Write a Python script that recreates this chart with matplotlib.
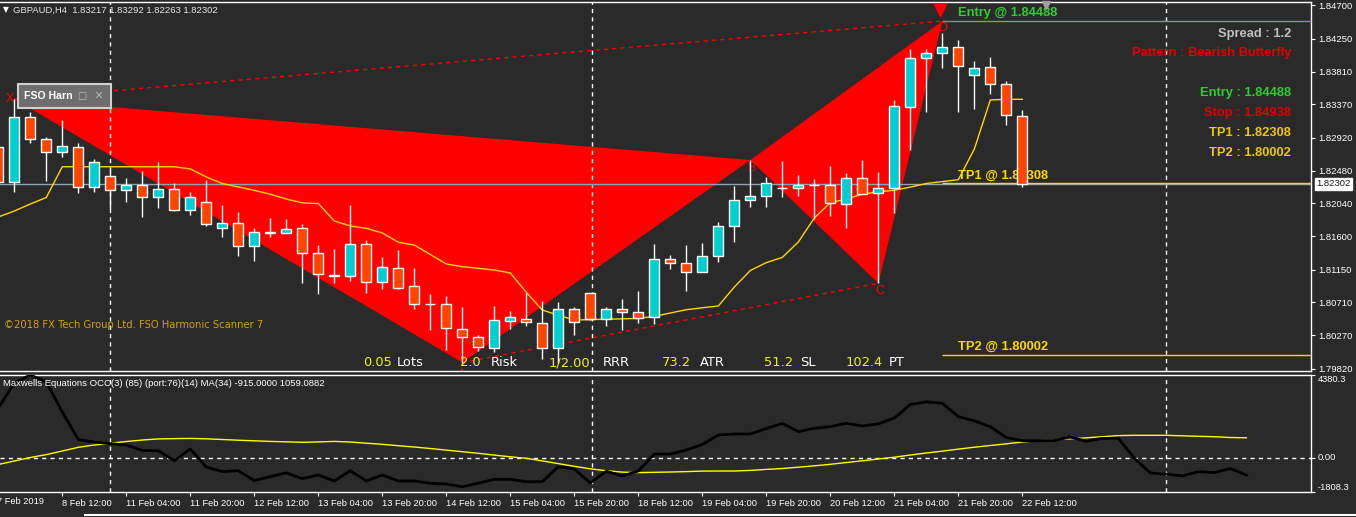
import matplotlib
matplotlib.use("Agg")
import matplotlib.pyplot as plt
import matplotlib.transforms as mtransforms
from matplotlib.patches import Polygon, Rectangle
from matplotlib.lines import Line2D

plt.rcParams['font.family'] = ['Liberation Sans', 'DejaVu Sans']

W, H = 1356, 517
BG = '#2a2a2a'
BULL = '#00ced1'
BEAR = '#ff4500'
GOLD = '#ffd700'
GREEN = '#32cd32'

# GBPAUD H4, bar 0 = 8 Feb 2019 00:00
symbol = 'GBPAUD,H4'
bars = list(range(-1, 64))
opens = [1.82800, 1.82322, 1.83195, 1.82900, 1.82725, 1.82792, 1.82255, 1.82402, 1.82214, 1.82282,
         1.82120, 1.82228, 1.81946, 1.82053, 1.81704, 1.81771, 1.81462, 1.81645, 1.81637, 1.81704,
         1.81376, 1.81067, 1.81059, 1.81489, 1.80978, 1.81166, 1.80924, 1.80687, 1.80683, 1.80355,
         1.80239, 1.80091, 1.80462, 1.80489, 1.80435, 1.80091, 1.80616, 1.80830, 1.80485, 1.80616,
         1.80575, 1.80508, 1.81287, 1.81233, 1.81121, 1.81328, 1.81731, 1.82080, 1.82134, 1.82241,
         1.82241, 1.82286, 1.82282, 1.82026, 1.82376, 1.82174, 1.82241, 1.83338, 1.83988, 1.84055,
         1.84140, 1.83760, 1.83871, 1.83639, 1.83217]
highs = [1.82850, 1.83440, 1.83270, 1.82935, 1.83159, 1.82854, 1.82631, 1.82487, 1.82384, 1.82474,
         1.82595, 1.82308, 1.82187, 1.82353, 1.82013, 1.81919, 1.81708, 1.81842, 1.81829, 1.81762,
         1.81479, 1.81426, 1.82013, 1.81547, 1.81318, 1.81408, 1.81170, 1.80821, 1.80794, 1.80650,
         1.80270, 1.80660, 1.80597, 1.80830, 1.80727, 1.80718, 1.80642, 1.80840, 1.80642, 1.80750,
         1.80865, 1.81493, 1.81345, 1.81479, 1.81502, 1.81788, 1.82272, 1.82621, 1.82389, 1.82604,
         1.82416, 1.82362, 1.82541, 1.82451, 1.82621, 1.82464, 1.83428, 1.84109, 1.84109, 1.84324,
         1.84234, 1.83952, 1.84009, 1.83683, 1.83292]
lows = [1.82290, 1.82196, 1.82846, 1.82339, 1.82666, 1.82182, 1.82196, 1.81959, 1.82061, 1.81860,
        1.81981, 1.81936, 1.81882, 1.81739, 1.81583, 1.81336, 1.81268, 1.81591, 1.81637, 1.80973,
        1.80825, 1.80973, 1.80996, 1.80830, 1.80892, 1.80892, 1.80624, 1.80337, 1.80069, 1.79900,
        1.80059, 1.80046, 1.80355, 1.80391, 1.79944, 1.79890, 1.80270, 1.80475, 1.80391, 1.80337,
        1.80435, 1.80418, 1.81153, 1.80865, 1.81121, 1.81255, 1.81524, 1.81986, 1.81994, 1.82128,
        1.82138, 1.81825, 1.81873, 1.81712, 1.82161, 1.80965, 1.81913, 1.82756, 1.83270, 1.83862,
        1.83270, 1.83303, 1.83504, 1.83092, 1.82263]
closes = [1.82330, 1.83195, 1.82900, 1.82725, 1.82810, 1.82255, 1.82591, 1.82214, 1.82282, 1.82120,
          1.82228, 1.81946, 1.82120, 1.81757, 1.81771, 1.81462, 1.81650, 1.81650, 1.81690, 1.81376,
          1.81086, 1.81070, 1.81489, 1.80978, 1.81180, 1.80906, 1.80683, 1.80685, 1.80360, 1.80247,
          1.80113, 1.80468, 1.80508, 1.80441, 1.80091, 1.80616, 1.80449, 1.80485, 1.80616, 1.80575,
          1.80499, 1.81287, 1.81233, 1.81121, 1.81328, 1.81731, 1.82080, 1.82134, 1.82308, 1.82245,
          1.82286, 1.82282, 1.82040, 1.82376, 1.82161, 1.82241, 1.83347, 1.83988, 1.84063, 1.84140,
          1.83888, 1.83862, 1.83639, 1.83222, 1.82302]
ma_main = [1.81856, 1.81936, 1.82030, 1.82118, 1.82531, 1.82531, 1.82531, 1.82531, 1.82531, 1.82531,
           1.82531, 1.82531, 1.82501, 1.82393, 1.82306, 1.82259, 1.82214, 1.82161, 1.82097, 1.82046,
           1.82036, 1.81802, 1.81735, 1.81704, 1.81641, 1.81516, 1.81479, 1.81352, 1.81224, 1.81188,
           1.81166, 1.81144, 1.81103, 1.80843, 1.80606, 1.80535, 1.80472, 1.80477, 1.80482, 1.80488,
           1.80493, 1.80521, 1.80566, 1.80610, 1.80636, 1.80660, 1.80915, 1.81137, 1.81243, 1.81313,
           1.81520, 1.81842, 1.82049, 1.82097, 1.82162, 1.82193, 1.82216, 1.82257, 1.82306, 1.82331,
           1.82357, 1.82769, 1.83428, 1.83437, 1.83437]

# Maxwells Equations OCC sub-window (runs 14 bars past the last candle)
osc_bars = list(range(-1, 78))
osc = [2634, 3956, 4380, 4009, 2422, 968, 836, 751, 677, 386,
       376, -153, 465, -487, -730, -682, -1206, -994, -799, -1100,
       -910, -1227, -682, -1227, -910, -1227, -1227, -1349, -1386, -1529,
       -1343, -1137, -1137, -1264, -1264, -471, -592, -1333, -709, -963,
       -698, 201, 201, 413, 703, 1206, 1259, 1259, 1550, 1819,
       1386, 1560, 1650, 1825, 1682, 1798, 2105, 2819, 2962, 2883,
       2179, 1957, 1640, 1074, 904, 904, 915, 1100, 873, 1031,
       1031, -26, -804, -857, -963, -730, -783, -566, -915]
osc_ma = [-354, -169, 16, 169, 360, 555, 677, 772, 862, 941,
          1000, 1015, 1026, 1005, 968, 931, 899, 867, 846, 820,
          841, 867, 836, 772, 714, 640, 571, 492, 407, 323,
          238, 143, 53, -26, -164, -307, -450, -582, -682, -756,
          -783, -767, -751, -730, -703, -698, -698, -666, -614, -566,
          -497, -423, -344, -249, -159, -63, 32, 148, 254, 354,
          460, 561, 651, 740, 836, 904, 952, 1005, 1058, 1116,
          1174, 1190, 1190, 1190, 1164, 1137, 1116, 1074, 1059.0882]
osc_range = (-1808.3, 4380.3)

price_ticks = [1.84700, 1.84250, 1.83810, 1.83370, 1.82920, 1.82480,
               1.82040, 1.81600, 1.81150, 1.80710, 1.80270, 1.79820]
date_ticks = list(range(3, 64, 4))
date_labels = ['8 Feb 12:00', '11 Feb 04:00', '11 Feb 20:00', '12 Feb 12:00', '13 Feb 04:00',
               '13 Feb 20:00', '14 Feb 12:00', '15 Feb 04:00', '15 Feb 20:00', '18 Feb 12:00',
               '19 Feb 04:00', '19 Feb 20:00', '20 Feb 12:00', '21 Feb 04:00', '21 Feb 20:00',
               '22 Feb 12:00']
separators = [6, 36.1, 72]

# bearish butterfly X A B C D
pat_x = [0, 28, 46, 54, 58]
pat_y = [1.83441, 1.79900, 1.82621, 1.80965, 1.84488]
pat_names = ['X', 'A', 'B', 'C', 'D']

last_price = 1.82302
entry, stop, tp1, tp2 = 1.84488, 1.84938, 1.82308, 1.80002
spread = 1.2
pattern_name = 'Bearish Butterfly'
calc_values = ['0.05', '2.0', '1/2.00', '73.2', '51.2', '102.4']
calc_names = ['Lots', 'Risk', 'RRR', 'ATR', 'SL', 'PT']

XMIN, XMAX = -0.894, 81.04


def px(x, y):
    return x / W, 1 - y / H


fig = plt.figure(figsize=(W / 100, H / 100), dpi=100, facecolor=BG)
ax = fig.add_axes([0, 1 - 371 / H, 1311 / W, 369 / H], facecolor=BG)
ax2 = fig.add_axes([0, 1 - 492 / H, 1311 / W, 117 / H], facecolor=BG)

for a in (ax, ax2):
    for s in a.spines.values():
        s.set_color('white')
        s.set_linewidth(1)
    a.spines['left'].set_visible(False)
    a.set_xlim(XMIN, XMAX)
    for xs in separators:
        a.axvline(xs, color='white', lw=1, ls=(0, (3, 3)), zorder=1.5)

ax.set_ylim(1.797865, 1.847443)
ax2.set_ylim(*osc_range)

# pattern triangles and dashed legs
ax.add_patch(Polygon(list(zip(pat_x[:3], pat_y[:3])), closed=True, fc='#ff0000', ec='none', zorder=1))
ax.add_patch(Polygon(list(zip(pat_x[2:], pat_y[2:])), closed=True, fc='#ff0000', ec='none', zorder=1))
ax.plot([pat_x[0], pat_x[4]], [pat_y[0], pat_y[4]], color='red', lw=1, ls=(0, (3, 3)), zorder=1.2)
ax.plot([pat_x[1], pat_x[3]], [pat_y[1], pat_y[3]], color='red', lw=1, ls=(0, (3, 3)), zorder=1.2)

ax.axhline(last_price, color='#8ca3b8', lw=1, zorder=1.6)
ax.hlines(entry, pat_x[4], XMAX, color=GREEN, lw=1, zorder=2)
ax.hlines([tp1, tp2], pat_x[4], XMAX, color=GOLD, lw=1, zorder=2)

ax.annotate(f'Entry @ {entry:.5f}', xy=(pat_x[4], entry), xytext=(16, 8), textcoords='offset pixels',
            color=GREEN, fontsize=9.3, fontweight='bold', va='center', zorder=2)
ax.annotate(f'TP1 @ {tp1:.5f}', xy=(pat_x[4], tp1), xytext=(16, 8), textcoords='offset pixels',
            color=GOLD, fontsize=9.3, fontweight='bold', va='center', zorder=2)
ax.annotate(f'TP2 @ {tp2:.5f}', xy=(pat_x[4], tp2), xytext=(16, 8), textcoords='offset pixels',
            color=GOLD, fontsize=9.3, fontweight='bold', va='center', zorder=2)

# moving average under the candles
ax.plot(bars, ma_main, color=GOLD, lw=1, zorder=2.5)

# candles
colors = [BULL if c > o else BEAR for o, c in zip(opens, closes)]
bottoms = [min(o, c) for o, c in zip(opens, closes)]
heights = [max(abs(c - o), 0.00001) for o, c in zip(opens, closes)]
ax.vlines(bars, lows, highs, color='white', lw=1, zorder=3)
ax.bar(bars, heights, bottom=bottoms, width=0.62, color=colors, edgecolor='white', linewidth=1, zorder=4)

# pattern letters (A sits under the bottom edge, mostly hidden)
offsets = {'X': (-4, 0), 'A': (0, -12), 'B': (2, -8), 'C': (2, -8), 'D': (1, -7)}
for name, xv, yv in zip(pat_names, pat_x, pat_y):
    t = ax.annotate(name, xy=(xv, yv), xytext=offsets[name], textcoords='offset pixels',
                    color='red', fontsize=9, ha='center', va='center', zorder=1.3)
    t.set_clip_on(True)
    t.set_clip_path(ax.patch)
arrow_tr = mtransforms.offset_copy(ax.transData, fig=fig, x=-2, y=11, units='dots')
ax.plot(pat_x[4], pat_y[4], marker='v', ms=9, color='red', transform=arrow_tr, zorder=6, clip_on=False)

# price axis
ax.set_xticks([])
ax.yaxis.tick_right()
ax.set_yticks(price_ticks)
ax.set_yticklabels([f'{p:.5f}' for p in price_ticks])
ax.tick_params(axis='y', colors='white', labelsize=6.8, length=3, pad=2)
ax.text(1316 / 1311, last_price, f'{last_price:.5f}', transform=ax.get_yaxis_transform(),
        ha='left', va='center', fontsize=6.8, color='#1a1a1a', clip_on=False, zorder=20,
        bbox=dict(boxstyle='square,pad=0.15', fc='white', ec='white'))

# indicator window
ax2.axhline(0, color='white', lw=1, ls=(0, (3, 3)), zorder=1.5)
ax2.plot(osc_bars, osc, color='black', lw=2, zorder=3)
ax2.plot(osc_bars, osc_ma, color='#ffff00', lw=1, zorder=2.5)
ax2.yaxis.tick_right()
ax2.set_yticks([osc_range[0], 0, osc_range[1]])
ax2.set_yticklabels([f'{osc_range[0]:.1f}', '0.00', f'{osc_range[1]:.1f}'])
for lbl, va in zip(ax2.get_yticklabels(), ['bottom', 'center', 'top']):
    lbl.set_va(va)
ax2.tick_params(axis='y', colors='white', labelsize=6.7, length=3, pad=2)
ax2.set_xticks(date_ticks)
ax2.set_xticklabels(date_labels, ha='left')
ax2.tick_params(axis='x', colors='white', labelsize=6.7, length=3, pad=2)
fig.text(*px(-3, 502), '7 Feb 2019', color='white', fontsize=6.7, va='center')

# texts on the chart
fig.text(*px(3, 10), '\u25bc', color='white', fontsize=5.5, va='center', family=['DejaVu Sans'])
fig.text(*px(13, 10), f'{symbol}  {opens[-1]:.5f} {highs[-1]:.5f} {lows[-1]:.5f} {closes[-1]:.5f}',
         color='#e6e6e6', fontsize=6.8, va='center')
fig.text(*px(3, 383), f'Maxwells Equations OCC(3) (85) (port:76)(14) MA(34) {osc[-1]:.4f} {osc_ma[-1]:.4f}',
         color='white', fontsize=6.8, va='center')
fig.text(*px(4, 325), '\u00a92018 FX Tech Group Ltd. FSO Harmonic Scanner 7', color='#d4a017',
         fontsize=7.2, va='center', family=['DejaVu Sans'])

info = [(f'Spread : {spread}', '#c0c0c0', 34),
        (f'Pattern : {pattern_name}', '#e80000', 53),
        (f'Entry : {entry:.5f}', GREEN, 93),
        (f'Stop : {stop:.5f}', '#e00000', 113),
        (f'TP1 : {tp1:.5f}', '#f0c800', 133),
        (f'TP2 : {tp2:.5f}', '#f0c800', 153)]
for txt, col, yy in info:
    fig.text(*px(1291, yy), txt, color=col, fontsize=9.3, fontweight='bold', ha='right', va='center')

calc_x = [(363, 397), (460, 491), (549, 603), (662, 700), (764, 800), (846, 889)]
for val, name, (xv, xn) in zip(calc_values, calc_names, calc_x):
    fig.text(*px(xv, 363), val, color='#f0f020', fontsize=9.4, va='center', family=['DejaVu Sans'])
    fig.text(*px(xn, 363), name, color='white', fontsize=9.4, va='center', family=['DejaVu Sans'])

# FSO panel button
fig.add_artist(Rectangle(px(18, 108), 93 / W, 24 / H, transform=fig.transFigure,
                         fc='#6e6e6e', ec='#d0d0d0', lw=1.5, zorder=5))
fig.text(*px(24, 96), 'FSO Harn', color='white', fontsize=7.6, fontweight='bold', va='center', zorder=6)
fig.text(*px(77, 96), '\u25a1', color='#b8b8b8', fontsize=7, va='center', zorder=6, family=['DejaVu Sans'])
fig.text(*px(94, 96), '\u00d7', color='#b8b8b8', fontsize=10, va='center', zorder=6)

fig.add_artist(Line2D([px(1046, 5)[0]], [px(1046, 5)[1]], marker='v', ms=6, color='#a0a0a0',
                      transform=fig.transFigure))
fig.add_artist(Line2D([85 / W, 1], [px(0, 515)[1]] * 2, color='white', lw=1.5, transform=fig.transFigure))

fig.savefig('out.png', dpi=100, facecolor=BG)
